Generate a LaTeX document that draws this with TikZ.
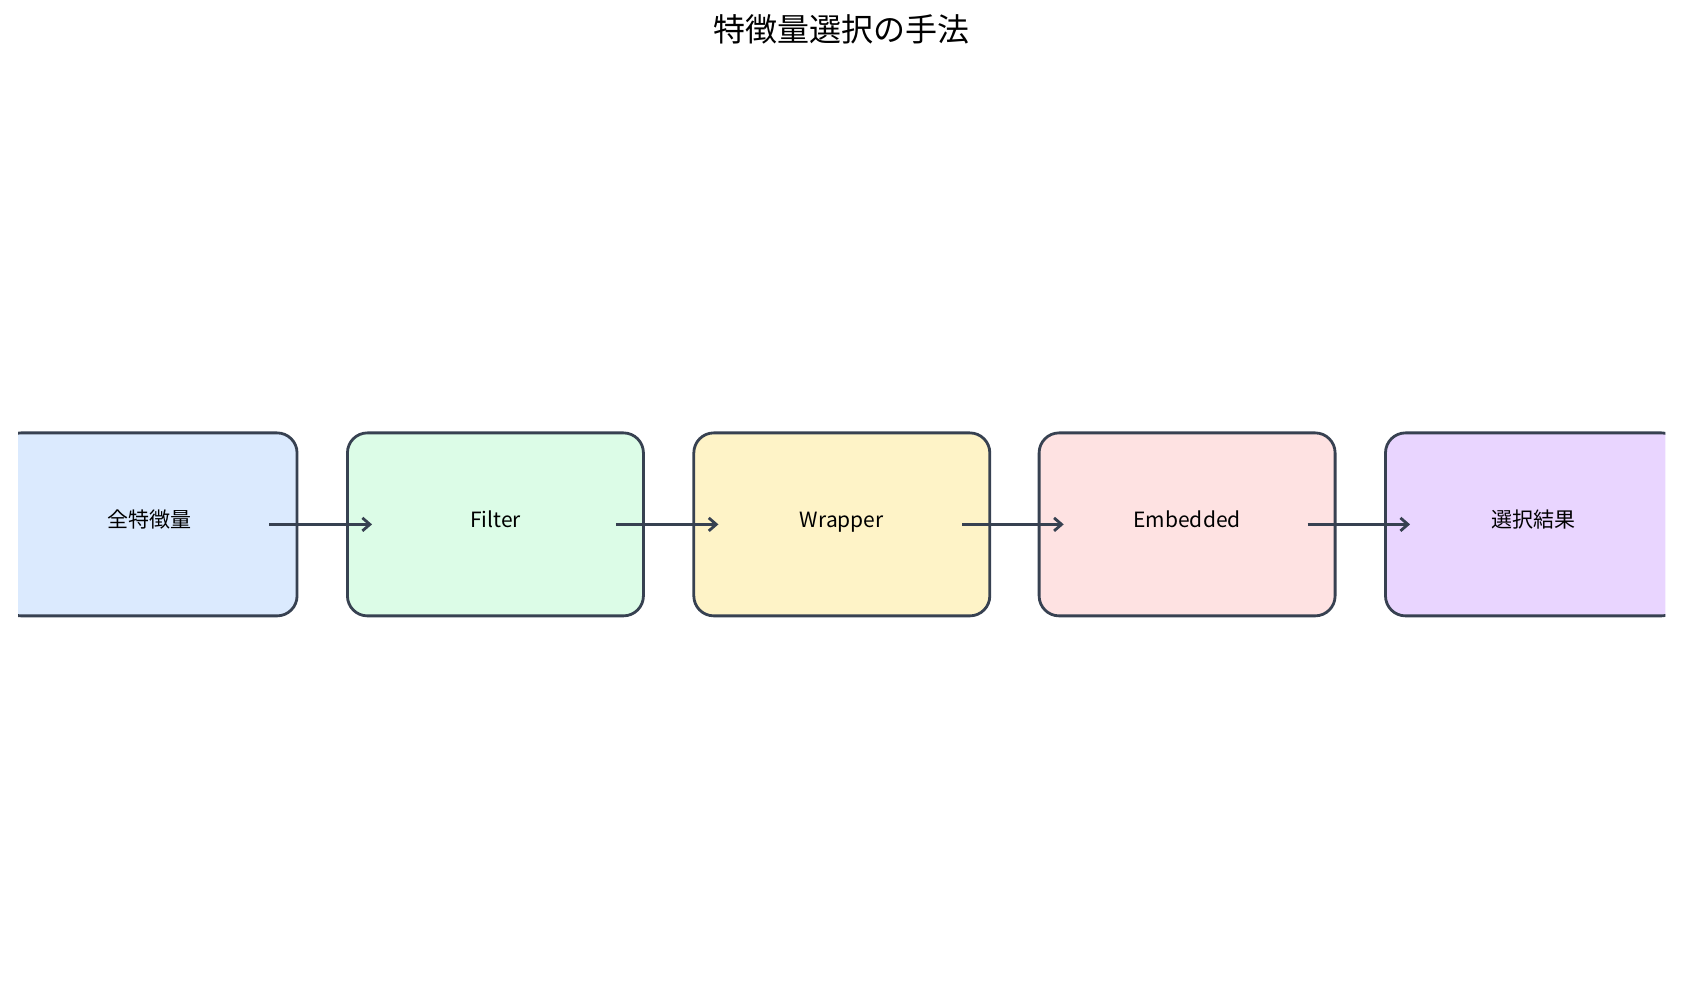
\documentclass[tikz,border=0pt]{standalone}
\usepackage{fontspec}
\setmainfont{Noto Sans CJK JP}
\usetikzlibrary{arrows.meta}
\definecolor{edge}{HTML}{374151}
\definecolor{fa}{HTML}{DBEAFE}
\definecolor{fb}{HTML}{DCFCE7}
\definecolor{fc}{HTML}{FEF3C7}
\definecolor{fd}{HTML}{FEE2E2}
\definecolor{fe}{HTML}{E9D5FF}
\begin{document}
\begin{tikzpicture}[x=1.0724pt,y=-1.0724pt,
  stage/.style={draw=edge,line width=2.8pt,rounded corners=20pt,minimum width=296pt,minimum height=183pt,inner sep=0pt,text height=0.75em,text depth=0.2em,font=\fontsize{21}{25}\selectfont},
  flow/.style={draw=edge,line width=2.8pt,-{Straight Barb[length=7.5pt,width=13pt]}}]
\useasboundingbox (0,0) rectangle (1568.5,935.3);
\node[font=\fontsize{32}{38}\selectfont] (title) at (785,27) {特徴量選択の手法};
\begin{scope}
\clip (17,0) rectangle (1553,935);
\node[stage,fill=fa] (a) at (139,489) {全特徴量};
\node[stage,fill=fb] (b) at (462,489) {Filter};
\node[stage,fill=fc] (c) at (785,489) {Wrapper};
\node[stage,fill=fd] (d) at (1107,489) {Embedded};
\node[stage,fill=fe] (e) at (1430,489) {選択結果};
\end{scope}
\coordinate (a1) at ([xshift=-29pt]a.east);
\coordinate (b0) at ([xshift=26pt]b.west);
\coordinate (b1) at ([xshift=-29pt]b.east);
\coordinate (c0) at ([xshift=26pt]c.west);
\coordinate (c1) at ([xshift=-29pt]c.east);
\coordinate (d0) at ([xshift=26pt]d.west);
\coordinate (d1) at ([xshift=-29pt]d.east);
\coordinate (e0) at ([xshift=26pt]e.west);
\draw[flow] (a1) -- (b0);
\draw[flow] (b1) -- (c0);
\draw[flow] (c1) -- (d0);
\draw[flow] (d1) -- (e0);
\end{tikzpicture}
\end{document}
